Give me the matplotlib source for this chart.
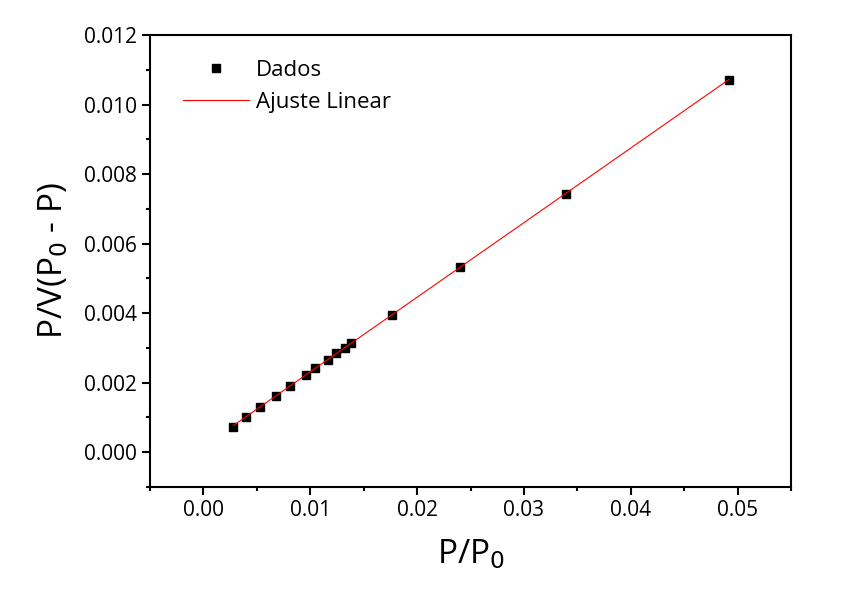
import matplotlib
matplotlib.use("Agg")
import matplotlib.pyplot as plt
import numpy as np
from matplotlib.ticker import MultipleLocator

x = [0.00281, 0.00403, 0.00534, 0.00675, 0.00815, 0.00956, 0.01049, 0.01162,
     0.01237, 0.01321, 0.01377, 0.01761, 0.02398, 0.03391, 0.04918]
y = [0.00072, 0.00101, 0.00130, 0.00162, 0.00191, 0.00223, 0.00243, 0.00266,
     0.00284, 0.00301, 0.00315, 0.00396, 0.00532, 0.00743, 0.01070]

plt.rcParams['font.family'] = ['Open Sans', 'DejaVu Sans']
fig = plt.figure(figsize=(8.41, 5.95), dpi=100)
ax = fig.add_axes([150/841, 1-487/595, (791-150)/841, (487-35)/595])
ax.plot(x, y, 's', color='black', ms=6, label='Dados')
k, b = np.polyfit(x, y, 1)
xf = np.array([x[0], x[-1]])
ax.plot(xf, k*xf+b, '-', color='red', lw=0.8, label='Ajuste Linear')
ax.set_xlim(-0.005, 0.055)
ax.set_ylim(-0.001, 0.012)
ax.xaxis.set_minor_locator(MultipleLocator(0.005))
ax.yaxis.set_minor_locator(MultipleLocator(0.001))
ax.set_xticks([0, 0.01, 0.02, 0.03, 0.04, 0.05])
ax.set_xticklabels(['0.00', '0.01', '0.02', '0.03', '0.04', '0.05'])
ax.set_yticks([0, 0.002, 0.004, 0.006, 0.008, 0.010, 0.012])
ax.set_yticklabels(['0.000', '0.002', '0.004', '0.006', '0.008', '0.010', '0.012'])
ax.tick_params(which='both', direction='out', labelsize=15, width=1.5)
ax.tick_params(which='major', length=6)
ax.tick_params(which='minor', length=3)
for s in ['left', 'bottom', 'right', 'top']:
    ax.spines[s].set_linewidth(1.5)
ax.set_xlabel('P/P$_0$', fontsize=24, labelpad=12)
ax.set_ylabel('P/V(P$_0$ - P)', fontsize=24, labelpad=10)
ax.legend(loc='upper left', frameon=False, fontsize=16, handlelength=3.0,
          handletextpad=0.3, bbox_to_anchor=(0.02, 0.99))
fig.savefig('out.png', dpi=100)
